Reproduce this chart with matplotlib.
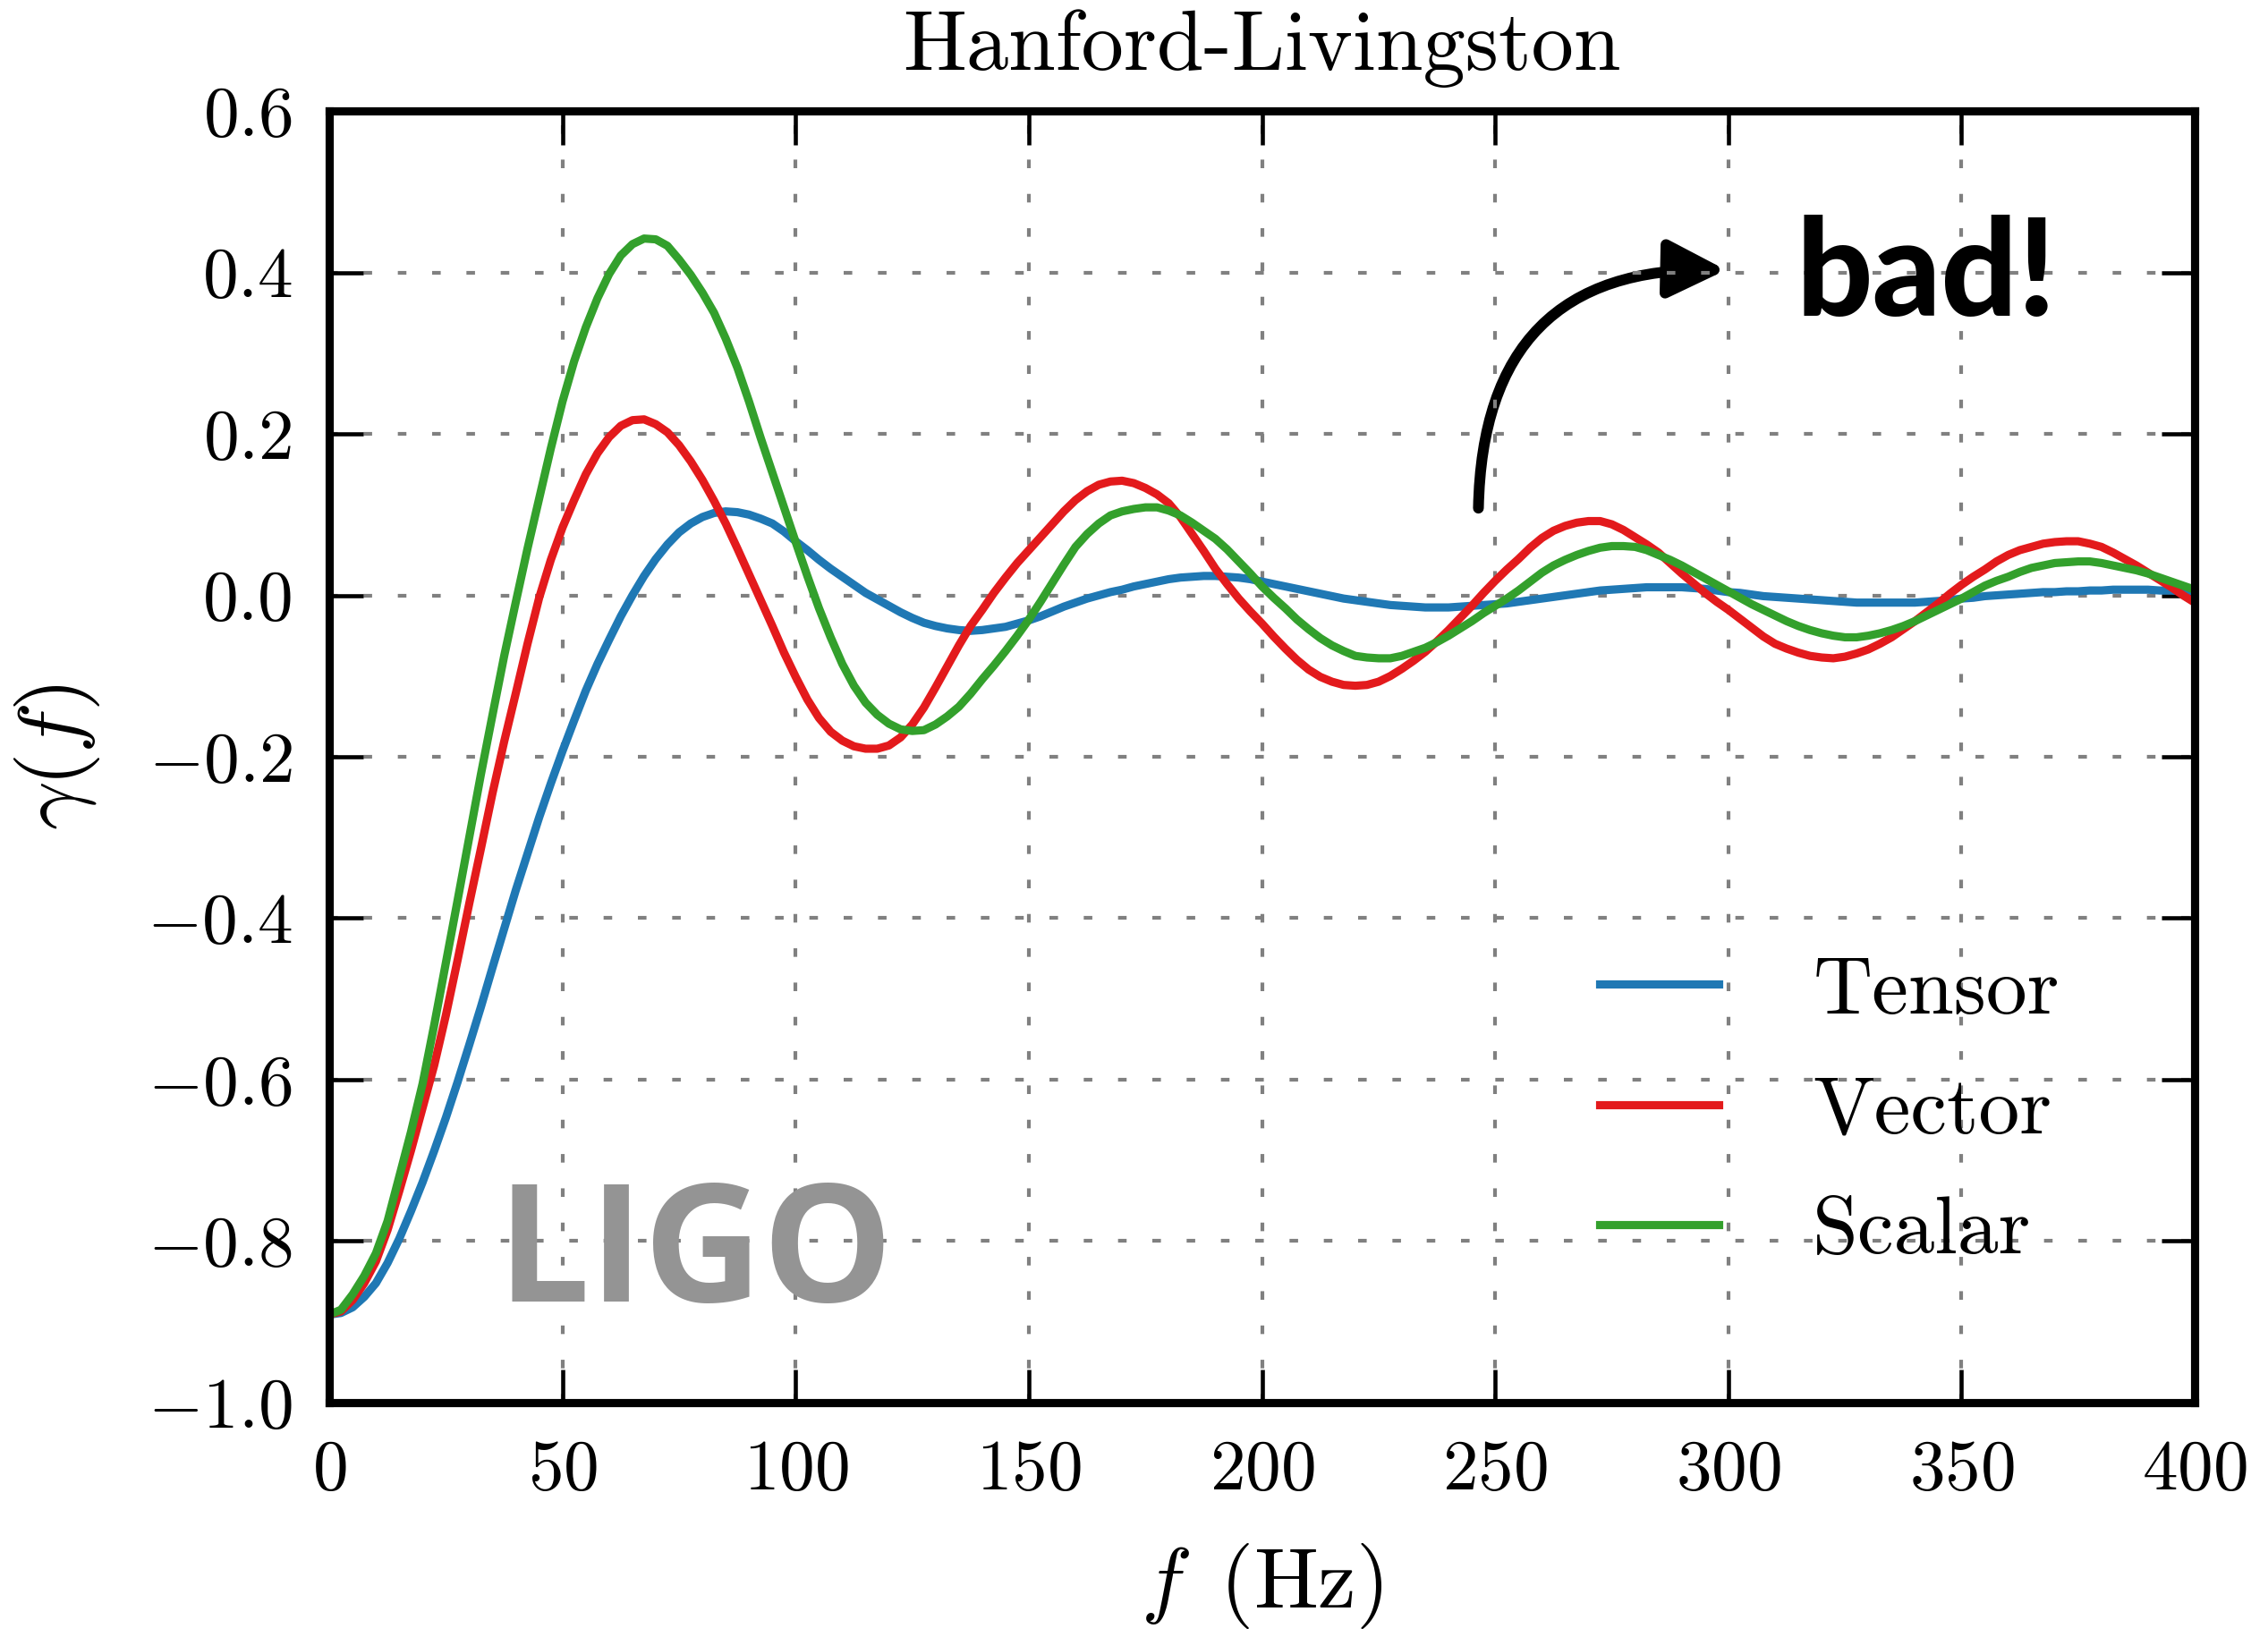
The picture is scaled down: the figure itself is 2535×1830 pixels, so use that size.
import numpy as np
import matplotlib
matplotlib.use('Agg')
import matplotlib.pyplot as plt
from matplotlib.patches import FancyArrowPatch
from matplotlib.ticker import FuncFormatter

# fonts: computer modern look
plt.rcParams['font.family'] = 'serif'
plt.rcParams['font.serif'] = ['cmr10']
plt.rcParams['mathtext.fontset'] = 'cm'
plt.rcParams['axes.formatter.use_mathtext'] = True

# data, 2.5 Hz steps (8 rows of 20 values + last point)
freq = np.arange(0, 400.1, 2.5)
tensor = [
    -0.891, -0.889, -0.882, -0.869, -0.852, -0.827, -0.797, -0.763, -0.727, -0.688,
    -0.647, -0.603, -0.557, -0.510, -0.461, -0.413, -0.365, -0.320, -0.275, -0.233,   # 0-47.5
    -0.193, -0.155, -0.118, -0.085, -0.055, -0.026, 0.000, 0.024, 0.045, 0.063,
    0.078, 0.089, 0.097, 0.102, 0.104, 0.103, 0.100, 0.095, 0.089, 0.079,           # 50-97.5
    0.067, 0.056, 0.044, 0.033, 0.023, 0.013, 0.003, -0.005, -0.013, -0.021,
    -0.028, -0.034, -0.038, -0.041, -0.043, -0.044, -0.043, -0.041, -0.039, -0.035,  # 100-147.5
    -0.031, -0.026, -0.020, -0.014, -0.009, -0.004, 0.000, 0.004, 0.007, 0.011,
    0.014, 0.017, 0.020, 0.022, 0.023, 0.024, 0.024, 0.023, 0.022, 0.020,            # 150-197.5
    0.017, 0.014, 0.011, 0.008, 0.005, 0.002, -0.001, -0.004, -0.006, -0.008,
    -0.010, -0.012, -0.013, -0.014, -0.015, -0.015, -0.015, -0.014, -0.013, -0.012,  # 200-247.5
    -0.011, -0.010, -0.008, -0.006, -0.004, -0.002, 0.000, 0.002, 0.004, 0.006,
    0.007, 0.008, 0.009, 0.010, 0.010, 0.010, 0.010, 0.009, 0.008, 0.006,            # 250-297.5
    0.004, 0.003, 0.001, -0.001, -0.002, -0.003, -0.004, -0.005, -0.006, -0.007,
    -0.008, -0.009, -0.009, -0.009, -0.009, -0.009, -0.009, -0.008, -0.007, -0.006,  # 300-347.5
    -0.004, -0.003, -0.001, 0.000, 0.001, 0.002, 0.003, 0.004, 0.004, 0.005,
    0.005, 0.006, 0.006, 0.007, 0.007, 0.007, 0.007, 0.006, 0.006, 0.005,            # 350-397.5
    0.005]
vector = [
    -0.891, -0.887, -0.873, -0.852, -0.825, -0.786, -0.738, -0.688, -0.635, -0.582,
    -0.520, -0.452, -0.382, -0.314, -0.245, -0.181, -0.121, -0.060, -0.003, 0.044,
    0.084, 0.118, 0.150, 0.176, 0.196, 0.210, 0.217, 0.218, 0.212, 0.202,
    0.186, 0.166, 0.143, 0.117, 0.089, 0.058, 0.026, -0.006, -0.038, -0.071,
    -0.101, -0.129, -0.152, -0.169, -0.180, -0.187, -0.190, -0.190, -0.186, -0.176,
    -0.160, -0.139, -0.114, -0.088, -0.062, -0.038, -0.018, 0.003, 0.022, 0.040,
    0.056, 0.072, 0.088, 0.104, 0.118, 0.129, 0.137, 0.141, 0.142, 0.139,
    0.133, 0.125, 0.114, 0.097, 0.076, 0.055, 0.033, 0.014, -0.004, -0.020,
    -0.035, -0.051, -0.066, -0.080, -0.092, -0.101, -0.107, -0.111, -0.112, -0.111,
    -0.107, -0.100, -0.091, -0.081, -0.070, -0.057, -0.043, -0.028, -0.013, 0.003,
    0.018, 0.032, 0.045, 0.059, 0.071, 0.080, 0.086, 0.090, 0.092, 0.092,
    0.088, 0.081, 0.072, 0.063, 0.053, 0.040, 0.027, 0.015, 0.003, -0.008,
    -0.018, -0.029, -0.040, -0.051, -0.060, -0.066, -0.071, -0.075, -0.077, -0.078,
    -0.076, -0.072, -0.067, -0.060, -0.052, -0.042, -0.032, -0.021, -0.010, 0.002,
    0.013, 0.023, 0.032, 0.042, 0.050, 0.056, 0.060, 0.064, 0.066, 0.067,
    0.067, 0.064, 0.060, 0.053, 0.045, 0.037, 0.028, 0.019, 0.010, 0.000,
    -0.009]
scalar = [
    -0.891, -0.885, -0.866, -0.843, -0.815, -0.775, -0.720, -0.665, -0.605, -0.532,
    -0.455, -0.378, -0.300, -0.222, -0.148, -0.075, -0.008, 0.058, 0.120, 0.182,
    0.240, 0.290, 0.332, 0.368, 0.398, 0.421, 0.435, 0.442, 0.441, 0.433,
    0.416, 0.397, 0.375, 0.350, 0.318, 0.282, 0.240, 0.195, 0.152, 0.109,
    0.066, 0.024, -0.016, -0.052, -0.085, -0.112, -0.133, -0.148, -0.159, -0.166,
    -0.168, -0.167, -0.160, -0.150, -0.138, -0.122, -0.104, -0.087, -0.069, -0.050,
    -0.030, -0.008, 0.015, 0.038, 0.060, 0.076, 0.089, 0.099, 0.104, 0.107,
    0.109, 0.109, 0.105, 0.099, 0.090, 0.080, 0.070, 0.057, 0.042, 0.027,
    0.011, -0.003, -0.016, -0.030, -0.042, -0.053, -0.062, -0.069, -0.075, -0.077,
    -0.078, -0.078, -0.075, -0.070, -0.065, -0.058, -0.050, -0.041, -0.032, -0.022,
    -0.013, -0.004, 0.006, 0.017, 0.028, 0.037, 0.044, 0.050, 0.055, 0.059,
    0.061, 0.061, 0.060, 0.056, 0.050, 0.044, 0.037, 0.029, 0.021, 0.013,
    0.005, -0.003, -0.011, -0.018, -0.025, -0.032, -0.038, -0.043, -0.047, -0.050,
    -0.052, -0.052, -0.050, -0.047, -0.043, -0.038, -0.032, -0.025, -0.018, -0.011,
    -0.004, 0.004, 0.012, 0.018, 0.023, 0.029, 0.034, 0.037, 0.040, 0.041,
    0.042, 0.042, 0.040, 0.037, 0.034, 0.031, 0.027, 0.022, 0.017, 0.012,
    0.007]
labels = ['Tensor', 'Vector', 'Scalar']
colors = ['#1f78b4', '#e31a1c', '#33a02c']

fig = plt.figure(figsize=(8.45, 6.1), dpi=300)
ax = fig.add_axes([0.1452, 0.1432, 0.8225, 0.789])

for vals, lab, col in zip([tensor, vector, scalar], labels, colors):
    ax.plot(freq, vals, color=col, lw=2.2, label=lab)

ax.set_xlim(0, 400)
ax.set_ylim(-1.0, 0.6)
ax.set_xticks(np.arange(0, 401, 50))
ax.set_yticks(np.arange(-1.0, 0.61, 0.2))

def yfmt(v, pos):
    if abs(v) < 1e-9:
        v = 0.0
    return r'$%.1f$' % v

ax.yaxis.set_major_formatter(FuncFormatter(yfmt))
ax.xaxis.set_major_formatter(FuncFormatter(lambda v, p: r'$%d$' % round(v)))
ax.tick_params(direction='in', top=True, right=True, length=9, width=1.1,
               labelsize=19, pad=10)
for sp in ax.spines.values():
    sp.set_linewidth(2.2)
ax.grid(True, color='gray', lw=1.0, linestyle=(0, (2.3, 6.9)))

ax.set_title('Hanford-Livingston', fontsize=22.7, pad=11)
ax.set_xlabel(r'$f\ \,(\mathrm{Hz})$', fontsize=23, labelpad=10)
ax.set_ylabel(r'$\gamma(f)$', fontsize=23, labelpad=12)

ax.legend(loc='upper left', bbox_to_anchor=(0.681, 0.346), frameon=False,
          fontsize=22, handlelength=1.45, handletextpad=1.15, labelspacing=0.57,
          borderpad=0, borderaxespad=0)

# annotations
ax.text(36.0, -0.875, 'LIGO', fontsize=44, color='#949494',
        family='Open Sans', weight='bold')
ax.text(314.5, 0.346, 'bad!', fontsize=36, color='black',
        family='Lato', weight='black')
arr = FancyArrowPatch((246.4, 0.108), (299.5, 0.403),
                      connectionstyle='arc3,rad=-0.5',
                      arrowstyle='-|>,head_length=1.0,head_width=0.5',
                      mutation_scale=13, lw=2.9, color='black',
                      shrinkA=0, shrinkB=0)
ax.add_patch(arr)

fig.savefig('out.png', dpi=300)
